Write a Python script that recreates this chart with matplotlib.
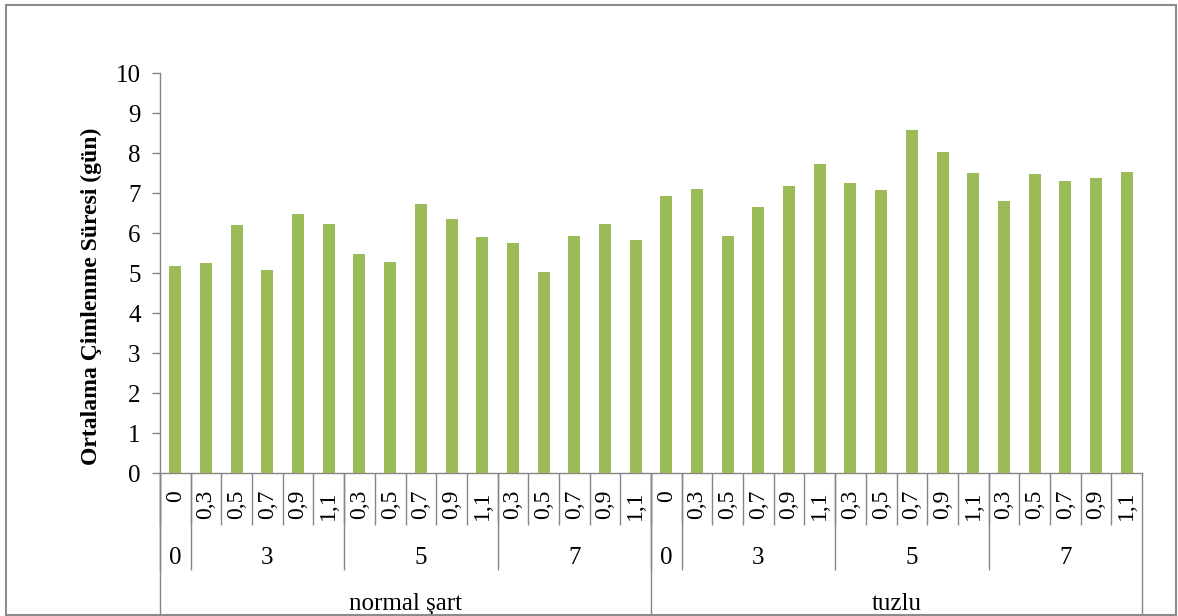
import matplotlib
matplotlib.use("Agg")
import matplotlib.pyplot as plt
from matplotlib.patches import Rectangle
import numpy as np

plt.rcParams['font.family'] = ['Liberation Serif', 'DejaVu Serif']

# mean germination time (days), one value per concentration
conditions = ["normal şart", "tuzlu"]
doses = ["0", "3", "5", "7"]
dose_levels = {"0": ["0"], "3": ["0,3", "0,5", "0,7", "0,9", "1,1"],
               "5": ["0,3", "0,5", "0,7", "0,9", "1,1"],
               "7": ["0,3", "0,5", "0,7", "0,9", "1,1"]}
normal_values = [5.18, 5.24, 6.20, 5.08, 6.47, 6.22, 5.48, 5.28, 6.72, 6.35,
                 5.90, 5.75, 5.02, 5.92, 6.22, 5.82]
salt_values = [6.93, 7.09, 5.92, 6.64, 7.18, 7.72, 7.26, 7.07, 8.58, 8.02,
               7.50, 6.81, 7.47, 7.31, 7.37, 7.52]
y_ticks = list(range(0, 11))

values = normal_values + salt_values

# build the 3-level category list
sub_labels = []
dose_spans = []
cond_spans = []
pos = 0
for cond in conditions:
    c_start = pos
    for d in doses:
        d_start = pos
        for s in dose_levels[d]:
            sub_labels.append(s)
            pos += 1
        dose_spans.append((d, d_start, pos))
    cond_spans.append((cond, c_start, pos))

W, H = 1178, 616
fig = plt.figure(figsize=(W / 100, H / 100), dpi=100)
ax = fig.add_axes([160 / W, 143 / H, 982 / W, 400 / H])

grey = "#868686"
fs = 18

x = np.arange(len(values))
ax.bar(x, values, width=0.39, color="#9BBB59", zorder=3)

ax.set_xlim(-0.5, len(values) - 0.5)
ax.set_ylim(0, 10)
ax.set_yticks(y_ticks)
ax.set_yticklabels([str(t) for t in y_ticks], fontsize=fs)
ax.tick_params(axis='y', direction='out', length=6, width=1, color=grey, pad=8)
ax.set_xticks([])
for side in ["top", "right"]:
    ax.spines[side].set_visible(False)
for side in ["left", "bottom"]:
    ax.spines[side].set_color(grey)
    ax.spines[side].set_linewidth(1)

# multi-level category axis below the plot
tr = ax.get_xaxis_transform()
row1 = -52 / 400
row2 = -97 / 400
row3 = -143 / 400


def vline(xpos, ybottom):
    ax.plot([xpos, xpos], [0, ybottom], transform=tr, color=grey,
            lw=1, clip_on=False, solid_capstyle='butt')


for i, s in enumerate(sub_labels):
    ax.text(i, -17 / 400, s, transform=tr, rotation=90, ha='center',
            va='top', fontsize=17)
    vline(i - 0.5, row1)

for d, a, b in dose_spans:
    ax.text((a + b - 1) / 2, -85 / 400, d, transform=tr, ha='center',
            va='center', fontsize=fs)
    vline(a - 0.5, row2)

for cond, a, b in cond_spans:
    ax.text((a + b - 1) / 2, -131 / 400, cond, transform=tr, ha='center',
            va='center', fontsize=fs)
    vline(a - 0.5, row3)
vline(len(values) - 0.5, row3)

fig.text(91 / W, 1 - 296 / H, "Ortalama Çimlenme Süresi (gün)", rotation=90,
         ha='center', va='center', fontsize=17, fontweight='bold')

# chart frame
fig.patches.append(Rectangle((6 / W, 1 / H), 1170 / W, 610 / H,
                             transform=fig.transFigure, fill=False,
                             edgecolor="#8C8C8C", lw=1.5))

fig.savefig("out.png", dpi=100)
